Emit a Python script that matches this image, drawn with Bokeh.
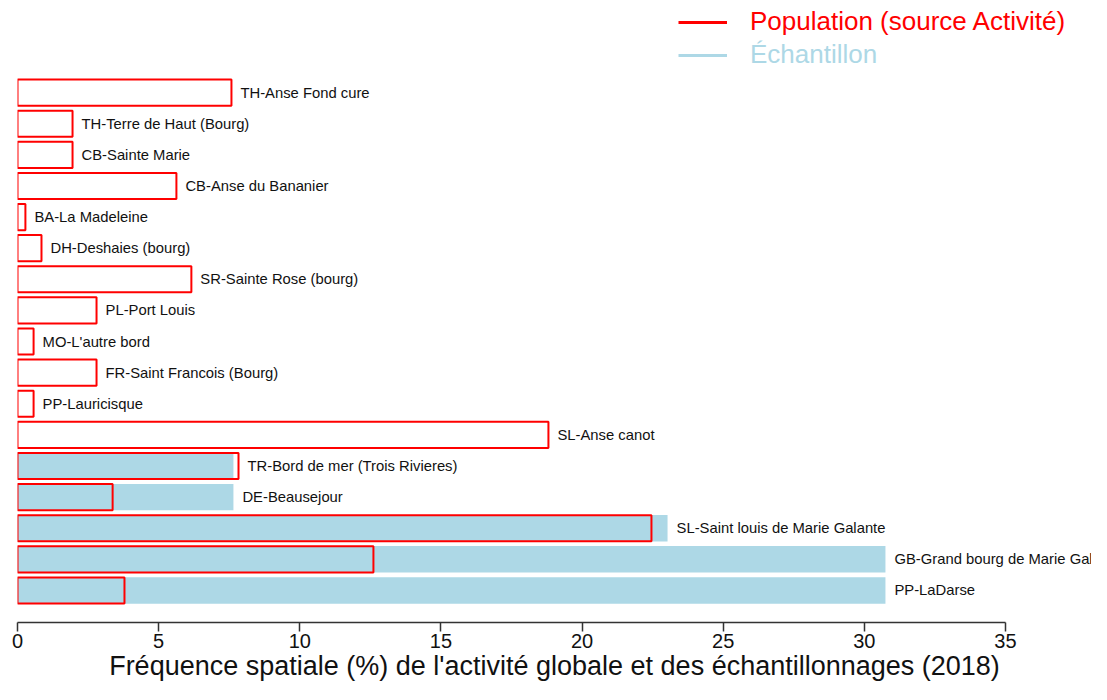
from bokeh.plotting import figure
from bokeh.models import ColumnDataSource, Range1d, FixedTicker, Legend, LegendItem
from bokeh.core.properties import value
from bokeh.embed import file_html
from bokeh.resources import INLINE

categories = [
    "TH-Anse Fond cure",
    "TH-Terre de Haut (Bourg)",
    "CB-Sainte Marie",
    "CB-Anse du Bananier",
    "BA-La Madeleine",
    "DH-Deshaies (bourg)",
    "SR-Sainte Rose (bourg)",
    "PL-Port Louis",
    "MO-L'autre bord",
    "FR-Saint Francois (Bourg)",
    "PP-Lauricisque",
    "SL-Anse canot",
    "TR-Bord de mer (Trois Rivieres)",
    "DE-Beausejour",
    "SL-Saint louis de Marie Galante",
    "GB-Grand bourg de Marie Galante",
    "PP-LaDarse",
]
population = [7.58, 1.95, 1.95, 5.63, 0.28, 0.85, 6.16, 2.80, 0.57, 2.80, 0.57,
              18.81, 7.83, 3.37, 22.46, 12.61, 3.79]
echantillon = [0, 0, 0, 0, 0, 0, 0, 0, 0, 0, 0,
               0, 7.65, 7.65, 23.03, 30.75, 30.75]
x_ticks = [0, 5, 10, 15, 20, 25, 30, 35]

n = len(categories)
ypos = [n - 1 - i for i in range(n)]
label_x = [max(a, b) for a, b in zip(population, echantillon)]
src = ColumnDataSource(dict(cat=categories, y=ypos, pop=population,
                            ech=echantillon, lx=label_x))

FONT = "Liberation Sans, Arial, sans-serif"

p = figure(width=1091, height=684, output_backend="svg", toolbar_location=None,
           x_range=Range1d(0, 38.05), y_range=Range1d(-1.03, 18.96),
           y_axis_location=None, min_border_left=17, min_border_right=0,
           min_border_top=0, min_border_bottom=62)
p.outline_line_color = None
p.xgrid.visible = False
p.ygrid.visible = False

p.hbar(y="y", left=0, right="ech", height=0.85, source=src,
       fill_color="#ADD8E6", line_color=None)
p.hbar(y="y", left=0, right="pop", height=0.84, source=src,
       fill_color=None, line_color="#FF0000", line_width=2)
p.text(x="lx", y="y", text="cat", source=src, x_offset=9,
       text_baseline="middle", text_align="left", text_font_size="14.8px",
       text_font=value(FONT), text_color="#111111")

ax = p.xaxis[0]
ax.ticker = FixedTicker(ticks=x_ticks)
ax.bounds = (0, 35)
ax.axis_line_color = "#333333"
ax.axis_line_width = 1.5
ax.major_tick_line_color = "#333333"
ax.major_tick_line_width = 1.5
ax.major_tick_out = 9
ax.major_tick_in = 0
ax.minor_tick_line_color = None
ax.major_label_text_font = FONT
ax.major_label_text_font_size = "20px"
ax.major_label_text_color = "#111111"
ax.major_label_standoff = 2
ax.axis_label = "Fréquence spatiale (%) de l'activité globale et des échantillonnages (2018)"
ax.axis_label_text_font = FONT
ax.axis_label_text_font_size = "27px"
ax.axis_label_text_font_style = "normal"
ax.axis_label_text_color = "#111111"
ax.axis_label_standoff = 0

nan = float("nan")
r_pop = p.line(x=[nan], y=[nan], line_color="#FF0000", line_width=3)
r_ech = p.line(x=[nan], y=[nan], line_color="#ADD8E6", line_width=3)

def make_legend(label, rend, color, loc):
    lg = Legend(items=[LegendItem(label=label, renderers=[rend])], location=loc,
                orientation="vertical", padding=0, margin=0, spacing=0,
                border_line_color=None, background_fill_alpha=0,
                glyph_width=49, glyph_height=24, label_height=24,
                label_standoff=23, label_text_font=FONT,
                label_text_font_size="26px", label_text_color=color,
                label_text_baseline="middle")
    return lg

p.add_layout(make_legend("Population (source Activité)", r_pop, "#FF0000", (661, 585)), "center")
p.add_layout(make_legend("Échantillon", r_ech, "#ADD8E6", (661, 552)), "center")

open("out.html", "w").write(file_html(p, INLINE))
